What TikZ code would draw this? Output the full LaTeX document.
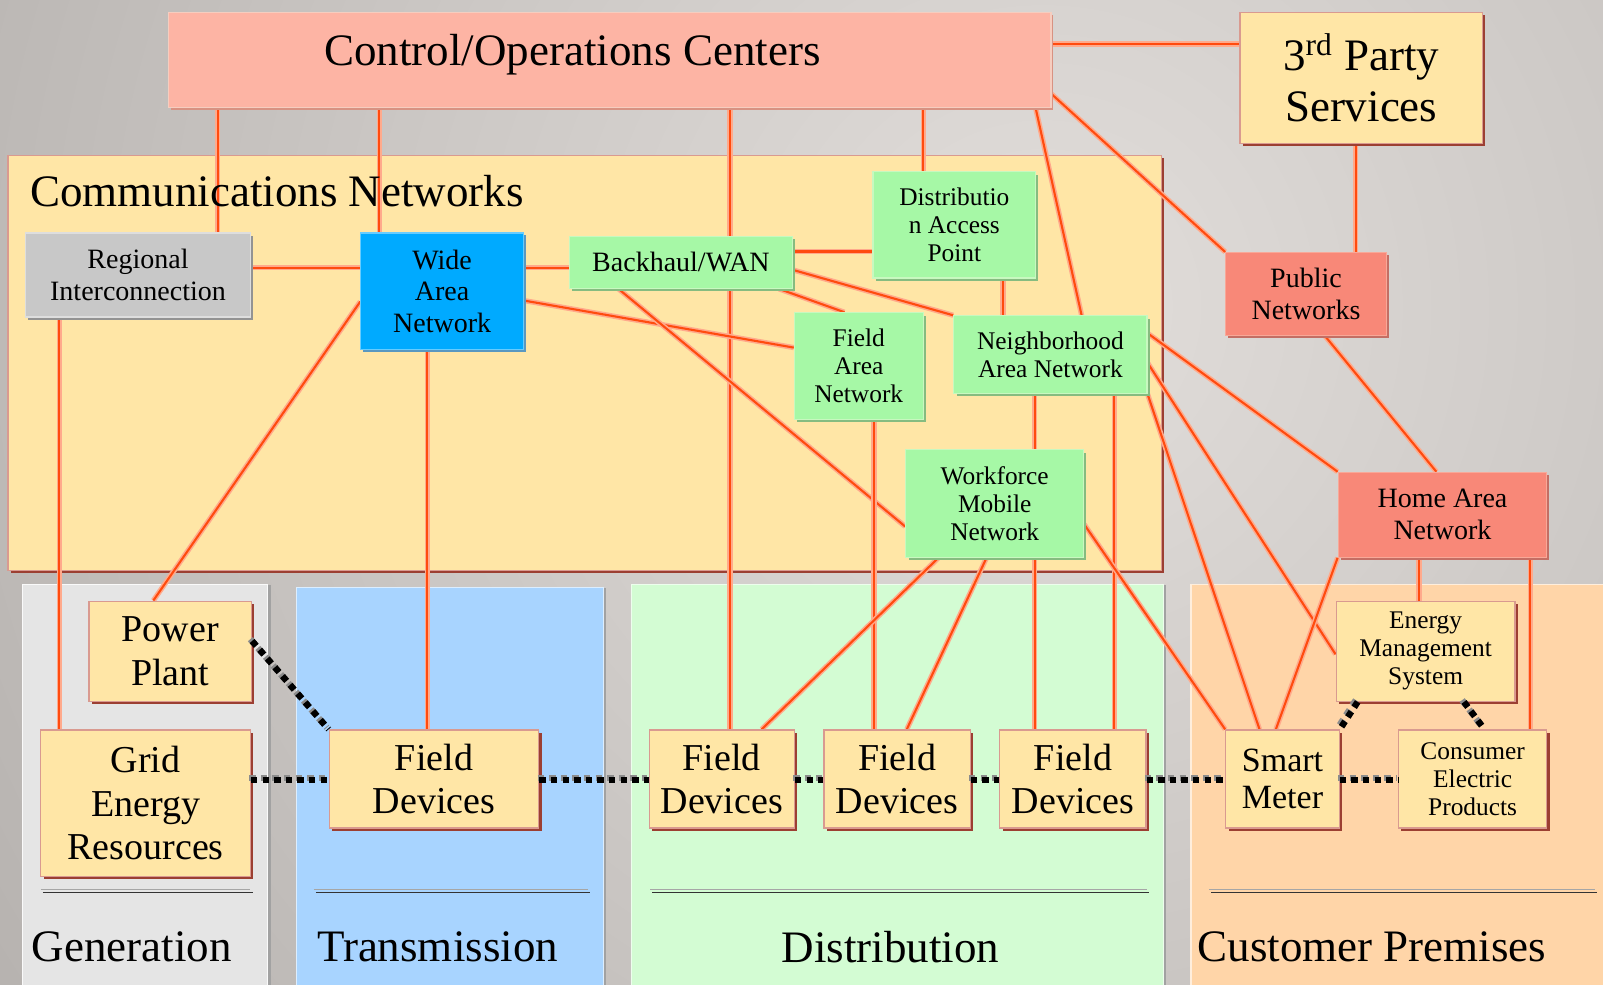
\documentclass[tikz,border=0pt]{standalone}
\usepackage{fontspec}
\setmainfont{Liberation Serif}
\usetikzlibrary{shadows}

\definecolor{bgdark}{HTML}{B2AEAB}
\definecolor{bglight}{HTML}{E2DEDB}
\definecolor{ctrlfill}{HTML}{FDB4A4}
\definecolor{ctrlborder}{HTML}{F6CDBF}
\definecolor{ctrlshadow}{HTML}{D89282}
\definecolor{yfill}{HTML}{FFE6A6}
\definecolor{yborder}{HTML}{D99A90}
\definecolor{yshadow}{HTML}{9C3F32}
\definecolor{gfill}{HTML}{A6F8A6}
\definecolor{gborder}{HTML}{C8F8C0}
\definecolor{gshadow}{HTML}{86BC80}
\definecolor{wanfill}{HTML}{00AAFF}
\definecolor{wanshadow}{HTML}{5A98C0}
\definecolor{regfill}{HTML}{C8C8C8}
\definecolor{regshadow}{HTML}{939393}
\definecolor{rfill}{HTML}{F88878}
\definecolor{rborder}{HTML}{F8A898}
\definecolor{rshadow}{HTML}{C46E64}
\definecolor{genfill}{HTML}{E5E5E5}
\definecolor{transfill}{HTML}{A8D4FF}
\definecolor{distfill}{HTML}{D3FCD3}
\definecolor{custfill}{HTML}{FFD5A8}
\definecolor{colshadow}{HTML}{A2A2A2}
\definecolor{lnk}{HTML}{FF4B0F}
\definecolor{lnkhalo}{HTML}{FFAA8C}
\definecolor{dotgray}{HTML}{8C8C8C}

\pgfdeclarelayer{bg}
\pgfdeclarelayer{wires}
\pgfsetlayers{bg,wires,main}

\begin{document}
\begin{tikzpicture}[x=0.51116pt, y=-0.51116pt,
  fXL/.style={font=\fontsize{22.5}{25.6}\selectfont},
  fL/.style={font=\fontsize{19}{21.8}\selectfont},
  fSM/.style={font=\fontsize{17}{18.6}\selectfont},
  fM/.style={font=\fontsize{14}{15.9}\selectfont},
  fS/.style={font=\fontsize{12.7}{14}\selectfont},
  sz/.style 2 args={minimum width=#1*0.51116pt, minimum height=#2*0.51116pt},
  box/.style={inner sep=0pt, align=center, text=black, line width=0.6pt},
  cbox/.style={box, fill=ctrlfill, draw=ctrlborder,
    general shadow={fill=ctrlshadow, shadow xshift=1.2pt, shadow yshift=-1.2pt}},
  ybox/.style={box, fill=yfill, draw=yborder,
    general shadow={fill=yshadow, shadow xshift=1.4pt, shadow yshift=-1.4pt}},
  gbox/.style={box, fill=gfill, draw=gborder,
    general shadow={fill=gshadow, shadow xshift=1.4pt, shadow yshift=-1.4pt}},
  wanbox/.style={box, fill=wanfill, draw=wanfill!60!white,
    general shadow={fill=wanshadow, shadow xshift=1.2pt, shadow yshift=-1.2pt}},
  regbox/.style={box, fill=regfill, draw=regfill!60!white,
    general shadow={fill=regshadow, shadow xshift=1.4pt, shadow yshift=-1.4pt}},
  rbox/.style={box, fill=rfill, draw=rborder,
    general shadow={fill=rshadow, shadow xshift=1.2pt, shadow yshift=-1.2pt}},
  colbox/.style={line width=0.6pt,
    general shadow={fill=colshadow, shadow xshift=1.4pt, shadow yshift=0pt}},
  link/.style={draw=lnk, line width=1.05pt,
    preaction={draw=lnkhalo, line width=2.6pt}},
  dots/.style={draw=black, line width=3.2pt, dash pattern=on 3.2pt off 2.6pt,
    preaction={draw=dotgray, line width=3.2pt, dash pattern=on 3.2pt off 2.6pt,
      transform canvas={shift={(-0.9pt,0.9pt)}}}},
  rule/.style={line width=0.7pt},
]
\useasboundingbox (0,0) rectangle (1568,963);

% ---------- backdrop, domain columns and network area ----------
\begin{pgfonlayer}{bg}
  \fill[bgdark] (0,0) rectangle (1568,963);
  \begin{scope}
    \clip (0,0) rectangle (1568,963);
    \shade[inner color=bglight, outer color=bgdark] (1020,300) circle (1350);
  \end{scope}

  \path[colbox, fill=genfill, draw=white!80!genfill] (22,572) rectangle (262,970);
  \path[colbox, fill=transfill, draw=white!60!transfill] (290,575) rectangle (590,970);
  \path[colbox, fill=distfill, draw=white!60!distfill] (618,572) rectangle (1138,970);
  \path[colbox, fill=custfill, draw=white!60!custfill] (1165,572) rectangle (1575,970);

  % double rules above the domain names
  \draw[rule, draw=gray!70] (40,870) -- (245,870);
  \draw[rule, draw=black!80] (42,873) -- (247,873);
  \draw[rule, draw=gray!70] (307,870) -- (575,870);
  \draw[rule, draw=black!80] (309,873) -- (577,873);
  \draw[rule, draw=gray!70] (636,870) -- (1122,870);
  \draw[rule, draw=black!80] (638,873) -- (1124,873);
  \draw[rule, draw=gray!70] (1183,870) -- (1560,870);
  \draw[rule, draw=black!80] (1185,873) -- (1562,873);

  % communications networks area
  \path[fill=yfill, draw=yborder, line width=0.8pt,
    general shadow={fill=yshadow, shadow xshift=1.5pt, shadow yshift=-1.5pt}]
    (8,152) rectangle (1136,558);
\end{pgfonlayer}

% ---------- nodes ----------
\node[cbox, sz={863}{93}] (ctrl) at (596.5,58.5) {};
\node[fXL, inner sep=0pt] (ctrltext) at (560,53) {Control/Operations Centers};
\node[ybox, fXL, sz={237}{128}] (third) at (1331.5,76) {3\textsuperscript{rd} Party\\Services};

\node[fXL, inner sep=0pt, anchor=west] (commtitle) at (29,187) {Communications Networks};

\node[regbox, fM, sz={220}{82}] (reg) at (135,269) {Regional\\Interconnection};
\node[wanbox, fM, sz={159}{114}] (wan) at (432.5,285) {Wide\\Area\\Network};
\node[gbox, fM, sz={218}{51}] (bh) at (666,256.5) {Backhaul/WAN};
\node[gbox, fS, sz={159}{104}] (dap) at (933.5,220) {Distributio\\n Access\\Point};
\node[gbox, fS, sz={126}{104}] (fan) at (840,358) {Field\\Area\\Network};
\node[gbox, fS, sz={189}{76}] (nan) at (1027.5,347) {Neighborhood\\Area Network};
\node[gbox, fS, sz={174}{105}] (wmn) at (973,492.5) {Workforce\\Mobile\\Network};
\node[rbox, fM, sz={157}{81}] (pub) at (1277.5,287.5) {Public\\Networks};
\node[rbox, fM, sz={204}{83}] (han) at (1411,503.5) {Home Area\\Network};

\node[ybox, fL, sz={159}{98}] (pp) at (166.5,637) {Power\\Plant};
\node[ybox, fL, sz={205}{143}] (grid) at (142.5,785.5) {Grid\\Energy\\Resources};
\node[ybox, fL, sz={205}{96}] (fdt) at (424.5,762) {Field\\Devices};
\node[ybox, fL, sz={142}{96}] (fd1) at (706,762) {Field\\Devices};
\node[ybox, fL, sz={143}{96}] (fd2) at (877.5,762) {Field\\Devices};
\node[ybox, fL, sz={143}{96}] (fd3) at (1049.5,762) {Field\\Devices};
\node[ybox, fSM, sz={111}{96}] (sm) at (1254.5,762) {Smart\\Meter};
\node[ybox, fS, sz={175}{98}] (ems) at (1394.5,637) {Energy\\Management\\System};
\node[ybox, fS, sz={145}{96}] (cep) at (1440.5,762) {Consumer\\Electric\\Products};

\node[fXL, inner sep=0pt] (genlbl) at (129,926) {Generation};
\node[fXL, inner sep=0pt] (translbl) at (428,926) {Transmission};
\node[fXL, inner sep=0pt] (distlbl) at (871,926) {Distribution};
\node[fXL, inner sep=0pt] (custlbl) at (1342,926) {Customer Premises};

% ---------- communication links ----------
\begin{pgfonlayer}{wires}
  \draw[link] (ctrl.south -| 213,0) -- (reg.north -| 213,0);
  \draw[link] (ctrl.south -| 371,0) -- (wan.north -| 371,0);
  \draw[link] (ctrl.south -| 714,0) -- (bh.north -| 714,0);
  \draw[link] (bh.south -| 714,0) -- (fd1.north -| 714,0);
  \draw[link] (ctrl.south -| 903,0) -- (dap.north -| 903,0);
  \draw[link] (ctrl.south -| 1013,0) -- (nan.north -| 1058,0);
  \draw[link] (ctrl.east |- 0,92) -- (pub.north west);
  \draw[link] (ctrl.east |- 0,43) -- (third.west |- 0,43);
  \draw[link] (third.south -| 1326,0) -- (pub.north -| 1326,0);
  \draw[link] (pub.south -| 1296,0) -- (han.north -| 1405,0);
  \draw[link] (reg.east |- 0,262) -- (wan.west |- 0,262);
  \draw[link] (wan.east |- 0,262) -- (bh.west |- 0,262);
  \draw[link] (wan.east |- 0,294) -- (fan.west |- 0,340);
  \draw[link] (wan.west |- 0,295) -- (pp.north -| 150,0);
  \draw[link] (wan.south -| 418,0) -- (fdt.north -| 418,0);
  \draw[link] (reg.south -| 58,0) -- (grid.north -| 58,0);
  \draw[link] (bh.east |- 0,246) -- (dap.west |- 0,246);
  \draw[link] (bh.east |- 0,264) -- (nan.north west);
  \draw[link] (bh.south -| 762,0) -- (fan.north -| 826,0);
  \draw[link] (bh.south -| 605,0) -- (wmn.west |- 0,515);
  \draw[link] (dap.south -| 981,0) -- (nan.north -| 981,0);
  \draw[link] (fan.south -| 855,0) -- (fd2.north -| 855,0);
  \draw[link] (nan.south -| 1012,0) -- (wmn.north -| 1012,0);
  \draw[link] (nan.south -| 1090,0) -- (fd3.north -| 1090,0);
  \draw[link] (nan.east |- 0,326) -- (han.north west);
  \draw[link] (nan.east |- 0,355) -- (ems.west |- 0,640);
  \draw[link] (nan.south east) -- (sm.north -| 1232,0);
  \draw[link] (wmn.south -| 918,0) -- (fd1.north -| 745,0);
  \draw[link] (wmn.south -| 965,0) -- (fd2.north -| 887,0);
  \draw[link] (wmn.south -| 1012,0) -- (fd3.north -| 1012,0);
  \draw[link] (wmn.east |- 0,513) -- (sm.north west);
  \draw[link] (han.south west) -- (sm.north -| 1248,0);
  \draw[link] (han.south -| 1388,0) -- (ems.north -| 1388,0);
  \draw[link] (han.south -| 1497,0) -- (cep.north -| 1497,0);
\end{pgfonlayer}

% ---------- power / device chain ----------
\draw[dots] (pp.east |- 0,627) -- (fdt.north west);
\draw[dots] (grid.east |- 0,763) -- (fdt.west |- 0,763);
\draw[dots] (fdt.east |- 0,763) -- (fd1.west |- 0,763);
\draw[dots] (fd1.east |- 0,763) -- (fd2.west |- 0,763);
\draw[dots] (fd2.east |- 0,763) -- (fd3.west |- 0,763);
\draw[dots] (fd3.east |- 0,763) -- (sm.west |- 0,763);
\draw[dots] (sm.east |- 0,763) -- (cep.west |- 0,763);
\draw[dots] (ems.south -| 1328,0) -- (sm.north east);
\draw[dots] (ems.south -| 1432,0) -- (cep.north -| 1452,0);
\end{tikzpicture}
\end{document}
